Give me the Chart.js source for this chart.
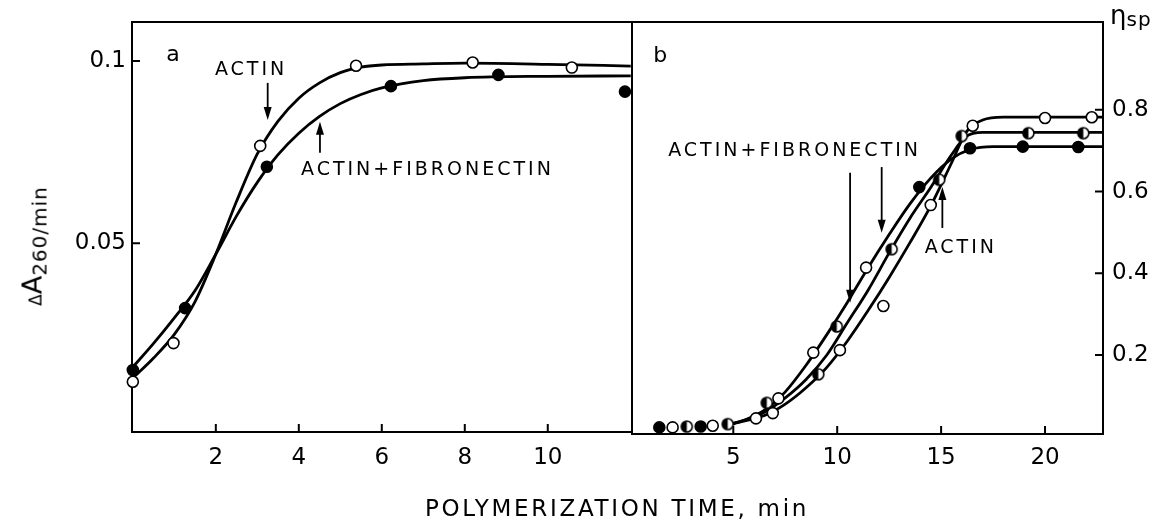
<!DOCTYPE html>
<html>
<head>
<meta charset="utf-8">
<script src="https://cdn.jsdelivr.net/npm/chart.js@4.4.1/dist/chart.umd.min.js"></script>
<style>
  body { margin: 0; background: #fff; }
  #wrap { position: relative; width: 1171px; height: 522px; background: #fff; overflow: hidden; }
  canvas { position: absolute; top: 0; }
  #ca { left: 0; }
  #cb { left: 600px; }
  .txt { position: absolute; font-family: 'DejaVu Sans', sans-serif; color: #000; white-space: nowrap; }
  #xtitle { left: 617px; top: 508px; transform: translate(-50%, -50%); font-size: 23px; letter-spacing: 2.7px; }
  #ytitle { left: 32px; top: 246px; transform: translate(-50%, -50%) rotate(-90deg); font-size: 27px; }
  #ytitle .d { font-size: 17px; }
  #ytitle .s { font-size: 20px; position: relative; top: 5px; letter-spacing: 1px; }
  #y2title { left: 1110px; top: 0px; font-size: 26px; }
  #y2title .s { font-size: 20px; position: relative; top: 2px; letter-spacing: 1px; }
</style>
</head>
<body>
<div id="wrap">
  <canvas id="ca" width="640" height="522"></canvas>
  <canvas id="cb" width="571" height="522"></canvas>
  <div class="txt" id="xtitle">POLYMERIZATION TIME, min</div>
  <div class="txt" id="ytitle"><span class="d">Δ</span>A<span class="s">260/min</span></div>
  <div class="txt" id="y2title">η<span class="s">sp</span></div>
</div>
<script>
// ---- panel a : ΔA260/min ----
const aXTicks = [2, 4, 6, 8, 10];
const aYTicks = [0.05, 0.1];
const aYTickLabels = ['0.05', '0.1'];

// smooth curves drawn through the points
const aActinCurveX = [0, 0.5, 1, 1.5, 2, 2.5, 3, 3.5, 4, 4.5, 5, 5.5, 6, 7, 8, 10, 12];
const aActinCurveY = [0.013, 0.0185, 0.025, 0.034, 0.047, 0.0615, 0.0745, 0.0835, 0.0898, 0.094, 0.0968, 0.0983, 0.0989, 0.0992, 0.0994, 0.0991, 0.0986];
const aFibCurveX = [0, 0.5, 1, 1.5, 2, 2.5, 3, 3.5, 4, 4.5, 5, 5.5, 6, 7, 8, 10, 12];
const aFibCurveY = [0.016, 0.0225, 0.0295, 0.037, 0.047, 0.0575, 0.0667, 0.0743, 0.0802, 0.0848, 0.0883, 0.0908, 0.0926, 0.0946, 0.0954, 0.0958, 0.0959];

// measured points
const aActinX = [0, 0.98, 3.07, 5.38, 8.19, 10.58];
const aActinY = [0.012, 0.0226, 0.0767, 0.0987, 0.0996, 0.0982];
const aFibX = [0, 1.26, 3.23, 6.22, 8.81, 11.86];
const aFibY = [0.0152, 0.0322, 0.071, 0.0931, 0.0962, 0.0916];

// ---- panel b : ηsp ----
const bXTicks = [5, 10, 15, 20];
const bYTicks = [0.2, 0.4, 0.6, 0.8];
const bYTickLabels = ['0.2', '0.4', '0.6', '0.8'];

const bCurve1X = [4.8, 5.5, 6.5, 7.5, 8.5, 9.5, 10.5, 11.5, 12.5, 13.5, 14.5, 15.5, 16.4, 17.5, 22.8];
const bCurve1Y = [0.03, 0.04, 0.065, 0.11, 0.175, 0.25, 0.33, 0.415, 0.495, 0.57, 0.633, 0.68, 0.703, 0.71, 0.71];
const bCurve2X = [4.8, 5.5, 6.5, 7.5, 8.5, 9.5, 10.5, 11.5, 12.5, 13.5, 14.5, 15.5, 16.2, 17, 22.8];
const bCurve2Y = [0.03, 0.04, 0.06, 0.095, 0.14, 0.2, 0.28, 0.36, 0.45, 0.535, 0.61, 0.69, 0.735, 0.745, 0.745];
const bCurve3X = [4.8, 5.5, 6.5, 7.5, 8.5, 9.5, 10.5, 11.5, 12.5, 13.5, 14.5, 15.5, 16.2, 17, 18, 22.8];
const bCurve3Y = [0.03, 0.038, 0.052, 0.08, 0.12, 0.17, 0.235, 0.31, 0.39, 0.475, 0.565, 0.67, 0.745, 0.775, 0.782, 0.782];

const bOpenX = [2.08, 4.01, 6.09, 6.9, 7.17, 8.85, 10.13, 11.39, 12.22, 14.5, 16.52, 20.0, 22.25];
const bOpenY = [0.023, 0.027, 0.045, 0.058, 0.094, 0.206, 0.212, 0.414, 0.32, 0.567, 0.761, 0.78, 0.782];
const bHalfX = [2.76, 4.73, 6.61, 9.09, 9.98, 12.62, 14.91, 15.99, 19.2, 21.84];
const bHalfY = [0.025, 0.031, 0.083, 0.153, 0.27, 0.459, 0.629, 0.736, 0.743, 0.743];
const bFilledX = [1.44, 3.43, 13.95, 16.39, 18.93, 21.6];
const bFilledY = [0.023, 0.025, 0.611, 0.706, 0.71, 0.709];

const FONT = "'DejaVu Sans', sans-serif";

function pts(xs, ys) {
    return xs.map((x, i) => ({ x: x, y: ys[i] }));
}

// half-filled circle marker
function halfMarker(r) {
    const c = document.createElement('canvas');
    const s = r * 2 + 4;
    c.width = s; c.height = s;
    const g = c.getContext('2d');
    g.fillStyle = '#fff';
    g.beginPath(); g.arc(s / 2, s / 2, r, 0, Math.PI * 2); g.fill();
    g.fillStyle = '#000';
    g.beginPath(); g.arc(s / 2, s / 2, r, Math.PI / 2, Math.PI * 1.5); g.closePath(); g.fill();
    g.lineWidth = 1.6; g.strokeStyle = '#000';
    g.beginPath(); g.arc(s / 2, s / 2, r, 0, Math.PI * 2); g.stroke();
    return c;
}

function curve(xs, ys) {
    return {
        data: pts(xs, ys), showLine: true, pointRadius: 0, borderColor: '#000',
        borderWidth: 2.8, cubicInterpolationMode: 'monotone', clip: false, order: 2
    };
}

function marks(xs, ys, fill, style) {
    return {
        data: pts(xs, ys), showLine: false, pointRadius: 5.5, pointHoverRadius: 5.5,
        pointBackgroundColor: fill, pointBorderColor: '#000', pointBorderWidth: 1.6,
        pointStyle: style || 'circle', clip: false, order: 1
    };
}

// frame, inward ticks, panel letters and arrows
const panelDeco = {
    id: 'panelDeco',
    beforeDatasetsDraw(chart, args, opts) {
        const { ctx, chartArea: ca, scales } = chart;
        ctx.save();
        ctx.strokeStyle = '#000';
        ctx.lineWidth = 2;
        ctx.strokeRect(ca.left, ca.top, ca.right - ca.left, ca.bottom - ca.top);
        ctx.beginPath();
        scales.x.ticks.forEach(t => {
            const px = scales.x.getPixelForValue(t.value);
            ctx.moveTo(px, ca.bottom); ctx.lineTo(px, ca.bottom - 8);
        });
        scales.y.ticks.forEach(t => {
            const py = scales.y.getPixelForValue(t.value);
            if (opts.side === 'left') { ctx.moveTo(ca.left, py); ctx.lineTo(ca.left + 8, py); }
            else { ctx.moveTo(ca.right, py); ctx.lineTo(ca.right - 8, py); }
        });
        ctx.stroke();
        ctx.restore();
    },
    afterDatasetsDraw(chart, args, opts) {
        const { ctx, scales } = chart;
        const X = v => scales.x.getPixelForValue(v);
        const Y = v => scales.y.getPixelForValue(v);
        ctx.save();
        ctx.fillStyle = '#000';
        ctx.textAlign = 'center';
        ctx.textBaseline = 'middle';
        (opts.labels || []).forEach(l => {
            ctx.font = l.size + 'px ' + FONT;
            ctx.letterSpacing = (l.spacing || 0) + 'px';
            ctx.fillText(l.text, X(l.x), Y(l.y));
        });
        ctx.strokeStyle = '#000';
        ctx.lineWidth = 1.8;
        (opts.arrows || []).forEach(a => {
            const px = X(a.x), y0 = Y(a.from), y1 = Y(a.to);
            const dir = y1 > y0 ? 1 : -1;
            ctx.beginPath(); ctx.moveTo(px, y0); ctx.lineTo(px, y1 - dir * 10); ctx.stroke();
            ctx.beginPath();
            ctx.moveTo(px, y1);
            ctx.lineTo(px - 4, y1 - dir * 13);
            ctx.lineTo(px + 4, y1 - dir * 13);
            ctx.closePath(); ctx.fill();
        });
        ctx.restore();
    }
};

function tickFont() {
    return { family: FONT, size: 23 };
}

// panel a
new Chart(document.getElementById('ca'), {
    type: 'scatter',
    data: {
        datasets: [
            curve(aActinCurveX, aActinCurveY),
            curve(aFibCurveX, aFibCurveY),
            marks(aActinX, aActinY, '#fff'),
            marks(aFibX, aFibY, '#000')
        ]
    },
    options: {
        responsive: false,
        animation: false,
        events: [],
        layout: { padding: { left: 0, right: 8, top: 22, bottom: 0 } },
        plugins: {
            legend: { display: false },
            tooltip: { enabled: false },
            panelDeco: {
                side: 'left',
                labels: [
                    { text: 'a', x: 0.97, y: 0.1016, size: 22 },
                    { text: 'ACTIN', x: 2.85, y: 0.0975, size: 19, spacing: 3 },
                    { text: 'ACTIN+FIBRONECTIN', x: 7.1, y: 0.0701, size: 19, spacing: 3 }
                ],
                arrows: [
                    { x: 3.25, from: 0.094, to: 0.0838 },
                    { x: 4.51, from: 0.0748, to: 0.0833 }
                ]
            }
        },
        scales: {
            x: {
                type: 'linear', min: -0.02, max: 12.03,
                afterBuildTicks: s => { s.ticks = aXTicks.map(v => ({ value: v })); },
                afterFit: s => { s.height = 90; s.paddingLeft = 0; s.paddingRight = 0; },
                grid: { display: false, drawTicks: false },
                border: { display: false },
                ticks: { color: '#000', font: tickFont(), padding: 12, maxRotation: 0, autoSkip: false, callback: v => String(v) }
            },
            y: {
                type: 'linear', min: -0.0018, max: 0.1107,
                afterBuildTicks: s => { s.ticks = aYTicks.map(v => ({ value: v })); },
                afterFit: s => { s.width = 132; s.paddingTop = 0; s.paddingBottom = 0; },
                grid: { display: false, drawTicks: false },
                border: { display: false },
                ticks: { color: '#000', font: tickFont(), padding: 6, autoSkip: false, callback: v => aYTickLabels[aYTicks.indexOf(v)] }
            }
        }
    },
    plugins: [panelDeco]
});

// panel b
const half = halfMarker(5.5);
new Chart(document.getElementById('cb'), {
    type: 'scatter',
    data: {
        datasets: [
            curve(bCurve1X, bCurve1Y),
            curve(bCurve2X, bCurve2Y),
            curve(bCurve3X, bCurve3Y),
            marks(bOpenX, bOpenY, '#fff'),
            marks(bHalfX, bHalfY, '#fff', half),
            marks(bFilledX, bFilledY, '#000')
        ]
    },
    options: {
        responsive: false,
        animation: false,
        events: [],
        layout: { padding: { left: 32, right: 0, top: 22, bottom: 0 } },
        plugins: {
            legend: { display: false },
            tooltip: { enabled: false },
            panelDeco: {
                side: 'right',
                labels: [
                    { text: 'b', x: 1.48, y: 0.93, size: 22 },
                    { text: 'ACTIN+FIBRONECTIN', x: 7.95, y: 0.7, size: 19, spacing: 3 },
                    { text: 'ACTIN', x: 15.95, y: 0.462, size: 19, spacing: 3 }
                ],
                arrows: [
                    { x: 10.62, from: 0.646, to: 0.328 },
                    { x: 12.14, from: 0.66, to: 0.499 },
                    { x: 15.06, from: 0.511, to: 0.611 }
                ]
            }
        },
        scales: {
            x: {
                type: 'linear', min: 0.125, max: 22.79,
                afterBuildTicks: s => { s.ticks = bXTicks.map(v => ({ value: v })); },
                afterFit: s => { s.height = 88; s.paddingLeft = 0; s.paddingRight = 0; },
                grid: { display: false, drawTicks: false },
                border: { display: false },
                ticks: { color: '#000', font: tickFont(), padding: 10, maxRotation: 0, autoSkip: false, callback: v => String(v) }
            },
            y: {
                type: 'linear', position: 'right', min: 0.0068, max: 1.015,
                afterBuildTicks: s => { s.ticks = bYTicks.map(v => ({ value: v })); },
                afterFit: s => { s.width = 68; s.paddingTop = 0; s.paddingBottom = 0; },
                grid: { display: false, drawTicks: false },
                border: { display: false },
                ticks: { color: '#000', font: tickFont(), padding: 9, autoSkip: false, callback: v => bYTickLabels[bYTicks.indexOf(v)] }
            }
        }
    },
    plugins: [panelDeco]
});
</script>
</body>
</html>
